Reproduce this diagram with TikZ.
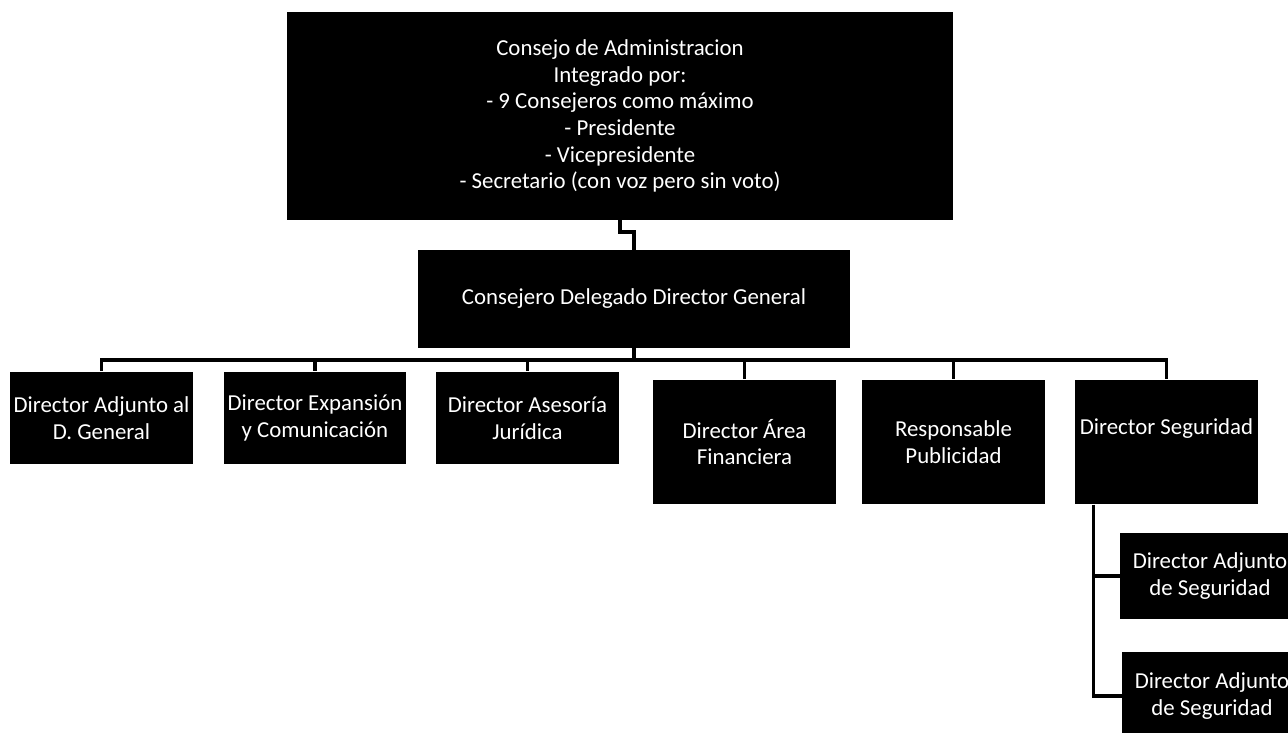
\documentclass[tikz,border=0pt]{standalone}
\usepackage{fontspec}
\setmainfont{Carlito}
\usepackage{tikz}

\tikzset{
  caja/.style={fill=black, text=white, align=center, inner sep=2pt,
    font=\fontsize{13}{15.2}\selectfont},
  fila/.style={caja, minimum width=3.66cm, minimum height=1.86cm},
  filab/.style={caja, minimum width=3.66cm, minimum height=2.5cm},
  linea/.style={line width=2.2pt}
}

\begin{document}
\begin{tikzpicture}[x=0.02cm,y=-0.02cm]
\useasboundingbox (0,0) rectangle (1288,733);
\clip (0,0) rectangle (1288,733);
\node[caja, minimum width=13.32cm, minimum height=4.16cm] (consejo) at (620,116)
  {Consejo de Administracion\\ Integrado por:\\ - 9 Consejeros como máximo\\ - Presidente\\ - Vicepresidente\\ - Secretario (con voz pero sin voto)};
\node[caja, minimum width=8.64cm, minimum height=1.96cm] (delegado) at (634,299) {Consejero Delegado Director General};
\node[fila] (adjunto) at (101.5,418) {Director Adjunto al\\ D. General};
\node[fila] (expansion) at (315,418) {Director Expansión\\ y Comunicación};
\node[fila] (asesoria) at (527.5,418) {Director Asesoría\\ Jurídica};
\node[filab] (financiera) at (744.5,442) {Director Área\\ Financiera};
\node[filab] (publicidad) at (953.5,442) {Responsable\\ Publicidad};
\node[filab, text depth=18pt] (seguridad) at (1166.5,442) {Director Seguridad};
\node[caja, minimum width=3.6cm, minimum height=1.72cm] (segadjA) at (1210,576) {Director Adjunto\\ de Seguridad};
\node[caja, minimum width=3.6cm, minimum height=1.76cm] (segadjB) at (1212,696) {Director Adjunto\\ de Seguridad};

\draw[linea] (consejo.south) -- ++(0,12) -| (delegado.north);
\draw[linea] (delegado.south) -- ++(0,12) coordinate (bus);
\foreach \n in {adjunto,expansion,asesoria,financiera,publicidad,seguridad}
  \draw[linea] (bus) -| (\n.north);
\draw[linea] ([xshift=-1.46cm]seguridad.south) |- (segadjA.west);
\draw[linea] ([xshift=-1.46cm]seguridad.south) |- (segadjB.west);
\end{tikzpicture}
\end{document}
